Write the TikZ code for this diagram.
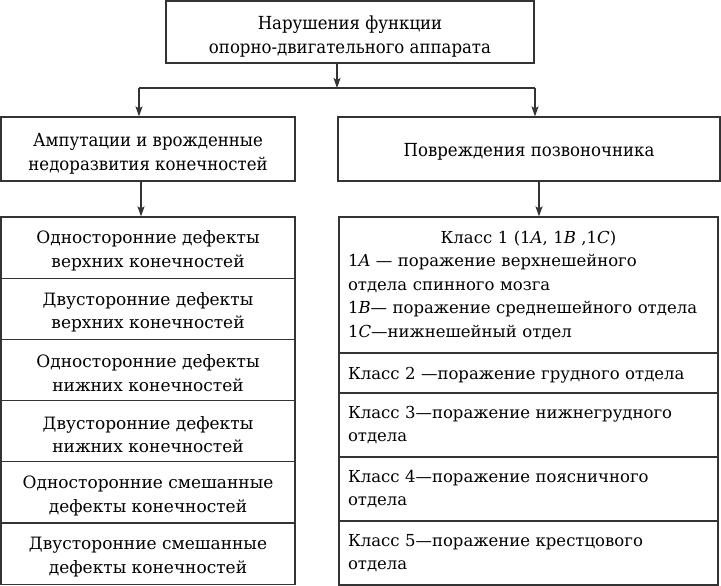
\documentclass[tikz,border=0pt]{standalone}
\usepackage{fontspec}
\setmainfont{DejaVu Serif}
\newfontfamily\condfont[FakeStretch=0.92]{DejaVu Serif}
\usetikzlibrary{arrows.meta}
\definecolor{linec}{HTML}{333333}
\newcommand{\mystrut}[1]{\rule{0pt}{#1}}
\begin{document}
\begin{tikzpicture}[x=1bp,y=-1bp,
  box/.style={draw=linec, line width=1.2bp, inner sep=0pt, align=center,
    font=\condfont\fontsize{18bp}{24bp}\selectfont},
  cell/.style={draw=linec, line width=1.2bp, inner sep=0pt, align=center,
    minimum width=294bp, minimum height=61.2bp,
    font=\fontsize{17bp}{23.5bp}\selectfont},
  rcell/.style={draw=linec, line width=1.2bp, inner xsep=9bp, inner ysep=0pt,
    text width=361bp, align=left,
    font=\fontsize{16.5bp}{23.5bp}\selectfont},
  conn/.style={draw=linec, line width=1.2bp},
  arr/.style={conn, -{Stealth[length=10bp,width=7bp,inset=2bp]}},
]
\useasboundingbox (0,0) rectangle (721,586);

\node[box, minimum width=368bp, minimum height=62bp] (top) at (350,32)
  {\mystrut{22bp}Нарушения функции\\опорно-двигательного аппарата};
\node[box, minimum width=294bp, minimum height=64bp] (amp) at (148,149)
  {\mystrut{22bp}Ампутации и врожденные\\недоразвития конечностей};
\node[box, minimum width=382bp, minimum height=64bp] (spine) at (529,149)
  {\mystrut{19.5bp}Повреждения позвоночника};

\node[cell] (l1) at (148,247.6) {\mystrut{19.5bp}Односторонние дефекты\\верхних конечностей};
\node[cell] (l2) at (148,308.8) {\mystrut{19.5bp}Двусторонние дефекты\\верхних конечностей};
\node[cell] (l3) at (148,370.0) {\mystrut{19.5bp}Односторонние дефекты\\нижних конечностей};
\node[cell] (l4) at (148,431.2) {\mystrut{19.5bp}Двусторонние дефекты\\нижних конечностей};
\node[cell] (l5) at (148,492.4) {\mystrut{19.5bp}Односторонние смешанные\\дефекты конечностей};
\node[cell] (l6) at (148,553.6) {\mystrut{19.5bp}Двусторонние смешанные\\дефекты конечностей};

\node[rcell, minimum height=136bp] (r1) at (528.5,285)
  {\makebox[361bp]{Класс 1 (1\textit{A}, 1\textit{B} ,1\textit{C})}\\
   \mbox{1\textit{A} — поражение верхнешейного}\\
   \mbox{отдела спинного мозга}\\
   \mbox{1\textit{B}— поражение среднешейного отдела}\\
   \mbox{1\textit{C}—нижнешейный отдел}};
\node[rcell, minimum height=40bp] (r2) at (528.5,373) {\mystrut{16bp}\mbox{Класс 2 —поражение грудного отдела}};
\node[rcell, minimum height=64bp] (r3) at (528.5,425) {\mbox{Класс 3—поражение нижнегрудного}\\отдела};
\node[rcell, minimum height=64bp] (r4) at (528.5,489) {\mbox{Класс 4—поражение поясничного}\\отдела};
\node[rcell, minimum height=64bp] (r5) at (528.5,553) {\mbox{Класс 5—поражение крестцового}\\отдела};

\coordinate (j) at (337,88);
\coordinate (jl) at (139,88);
\coordinate (jr) at (535,88);
\coordinate (al) at (141,0);
\coordinate (ar) at (539,0);
\draw[arr] (top.south -| j) -- (j);
\draw[conn] (jl) -- (jr);
\draw[arr] (jl) -- (jl |- amp.north);
\draw[arr] (jr) -- (jr |- spine.north);
\draw[arr] (amp.south -| al) -- (l1.north -| al);
\draw[arr] (spine.south -| ar) -- (r1.north -| ar);
\end{tikzpicture}
\end{document}
